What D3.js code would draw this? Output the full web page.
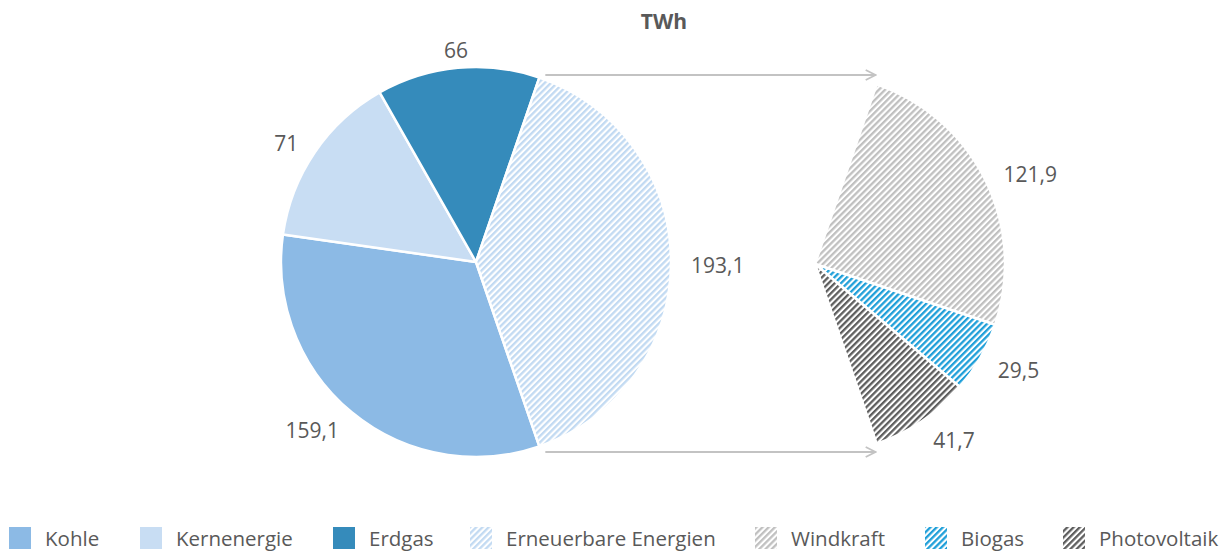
<!DOCTYPE html>
<html><head><meta charset="utf-8">
<script src="https://cdn.jsdelivr.net/npm/d3@7"></script>
<style>body{margin:0;background:#fff}svg{display:block;font-family:"Open Sans",sans-serif}</style>
</head><body>
<svg id="c" width="1227" height="556"></svg>
<script>
const title = "TWh";
const mainCategories = ["Kohle","Kernenergie","Erdgas","Erneuerbare Energien"];
const mainValues = [159.1, 71, 66, 193.1];
const subCategories = ["Windkraft","Biogas","Photovoltaik"];
const subValues = [121.9, 29.5, 41.7];
const labelText = v => String(v).replace(".", ",");

const svg = d3.select("#c");
const defs = svg.append("defs");
function hatch(id, color){
  const p = defs.append("pattern").attr("id", id).attr("patternUnits","userSpaceOnUse")
    .attr("width", 4.4).attr("height", 4.4).attr("patternTransform","rotate(45)");
  p.append("rect").attr("width",4.4).attr("height",4.4).attr("fill","#fff");
  p.append("rect").attr("x",0).attr("width",2.3).attr("height",4.4).attr("fill",color);
  return `url(#${id})`;
}
const fills = {
  "Kohle":"#8cbae5",
  "Kernenergie":"#c8ddf3",
  "Erdgas":"#358bbb",
  "Erneuerbare Energien":hatch("hEE","#c2daf2"),
  "Windkraft":hatch("hW","#c0c0c0"),
  "Biogas":hatch("hB","#1f9fd9"),
  "Photovoltaik":hatch("hP","#5e5e5e")
};

const total = d3.sum(mainValues);
const ang = d3.scaleLinear().domain([0,total]).range([0,2*Math.PI]);
const eeSpan = ang(mainValues[3]);
const eeStart = Math.PI/2 - eeSpan/2;
const kohleStart = Math.PI/2 + eeSpan/2;

const C1 = {x:476, y:262}, R1 = 195;
const C2 = {x:815, y:264}, R2 = 190;

const mainPie = d3.pie().sort(null).value(d=>d.v).startAngle(kohleStart).endAngle(kohleStart+2*Math.PI);
const mainArcs = mainPie(mainCategories.map((c,i)=>({c, v:mainValues[i]})));
const arc1 = d3.arc().innerRadius(0).outerRadius(R1);

const g1 = svg.append("g").attr("transform",`translate(${C1.x},${C1.y})`);
g1.selectAll("path").data(mainArcs).join("path")
  .attr("d", arc1).attr("fill", d=>fills[d.data.c])
  .attr("stroke","#fff").attr("stroke-width",2.5).attr("stroke-linejoin","round");

// secondary pie: same angular scale, spanning the Erneuerbare slice
let a0 = eeStart;
const subArcs = subCategories.map((c,i)=>{
  const s = a0, e = a0 + ang(subValues[i]); a0 = e;
  return {data:{c, v:subValues[i]}, startAngle:s, endAngle:e};
});
const arc2 = d3.arc().innerRadius(0).outerRadius(R2);
const g2 = svg.append("g").attr("transform",`translate(${C2.x},${C2.y})`);
g2.selectAll("path").data(subArcs).join("path")
  .attr("d", arc2).attr("fill", d=>fills[d.data.c])
  .attr("stroke","#fff").attr("stroke-width",2.5).attr("stroke-linejoin","round");

// connector arrows
defs.append("marker").attr("id","arr").attr("viewBox","0 0 12 12").attr("refX",11).attr("refY",6)
  .attr("markerWidth",12).attr("markerHeight",12).attr("markerUnits","userSpaceOnUse").attr("orient","auto")
  .append("path").attr("d","M1,1 L11,6 L1,11").attr("fill","none").attr("stroke","#c3c3c3").attr("stroke-width",1.8);
const pt = (C,R,a)=>({x:C.x+R*Math.sin(a), y:C.y-R*Math.cos(a)});
const topA = pt(C1,R1,eeStart), topB = pt(C2,R2,eeStart);
const botA = pt(C1,R1,kohleStart), botB = pt(C2,R2,kohleStart);
[[topA,topB,75],[botA,botB,452]].forEach(([A,B,y])=>{
  svg.append("line").attr("x1",A.x+6).attr("x2",B.x-1).attr("y1",y).attr("y2",y)
    .attr("stroke","#c3c3c3").attr("stroke-width",2).attr("marker-end","url(#arr)");
});

// labels
function labels(g, arcs, R){
  g.selectAll("text.lbl").data(arcs).join("text").attr("class","lbl")
    .each(function(d){
      const m = (d.startAngle+d.endAngle)/2;
      const r = R + 20;
      const x = r*Math.sin(m), y = -r*Math.cos(m);
      const s = Math.sin(m);
      d3.select(this).attr("x",x).attr("y",y).attr("dy","0.5em")
        .attr("text-anchor", Math.abs(s)<0.2 ? "middle" : (s>0?"start":"end"));
    })
    .attr("font-size",21).attr("fill","#595959").text(d=>labelText(d.data.v));
}
labels(g1, mainArcs, R1);
labels(g2, subArcs, R2);

svg.append("text").attr("x",664).attr("y",29).attr("text-anchor","middle")
  .attr("font-size",21).attr("font-weight","bold").attr("fill","#595959").text(title);

// legend
const legendItems = mainCategories.slice(0,4).concat(subCategories);
const legendX = [9,140,333,470,755,925,1063];
const lg = svg.append("g");
legendItems.forEach((c,i)=>{
  lg.append("rect").attr("x",legendX[i]).attr("y",527).attr("width",22).attr("height",22).attr("fill",fills[c]);
  lg.append("text").attr("x",legendX[i]+36).attr("y",546).attr("font-size",20.5).attr("fill","#595959").text(c);
});
</script>
</body></html>
